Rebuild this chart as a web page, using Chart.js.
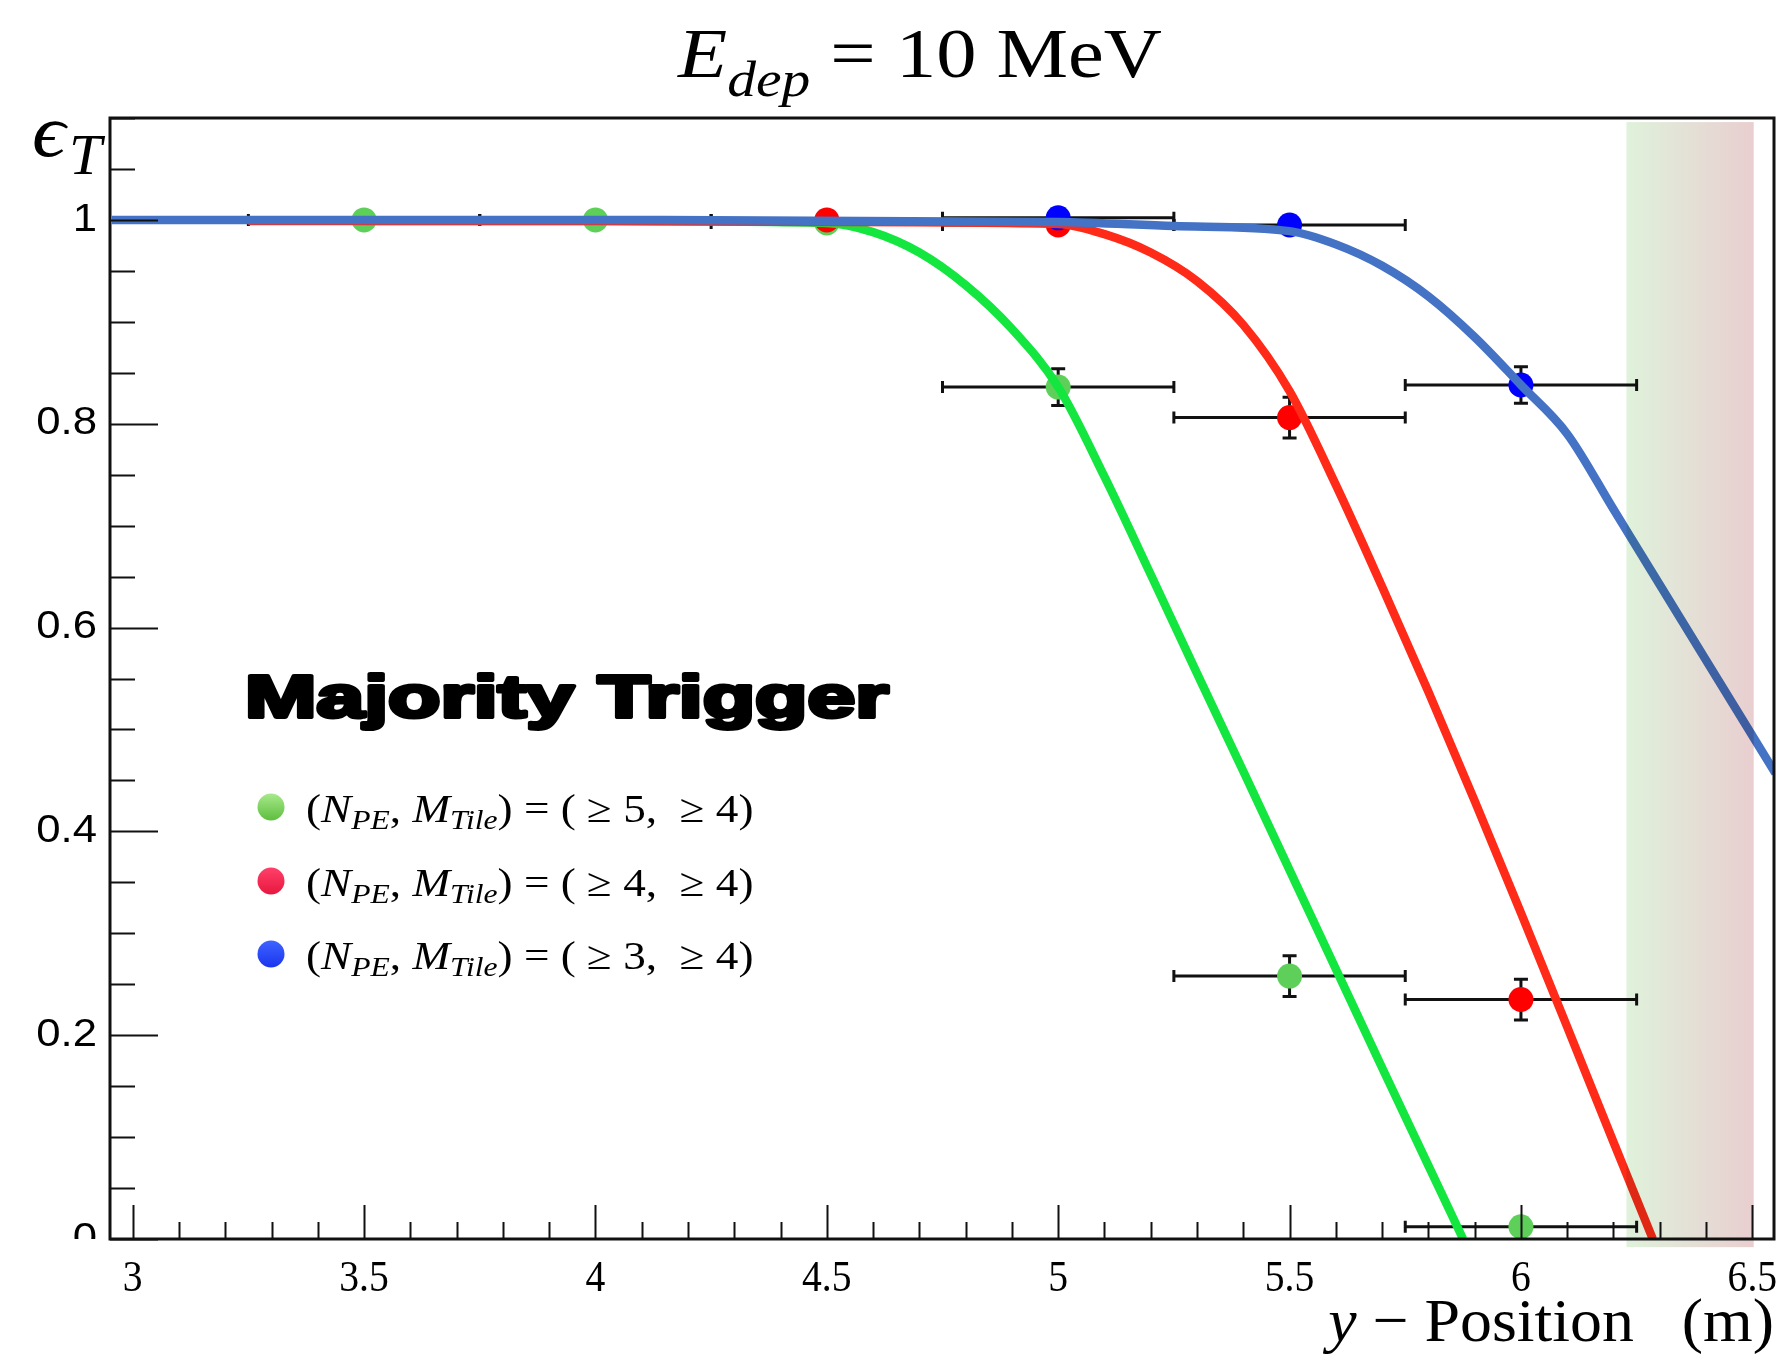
<!DOCTYPE html>
<html>
<head>
<meta charset="utf-8">
<title>Majority Trigger - efficacite</title>
<script src="https://cdn.jsdelivr.net/npm/chart.js@4.4.1/dist/chart.umd.min.js"></script>
<style>
  html, body { margin: 0; padding: 0; background: #fff; }
  #wrap { width: 1777px; height: 1356px; }
</style>
</head>
<body>
<div id="wrap"><canvas id="effChart" width="1777" height="1356"></canvas></div>
<script>
// Points mesures : centre du bin, efficacite, erreur
const binHalfWidth = 0.25;

const posGreen = [3.5, 4.0, 4.5, 5.0, 5.5, 6.0];
const effGreen = [1.0, 1.0, 0.997, 0.836, 0.258, 0.012];
const errGreen = [0.002, 0.002, 0.003, 0.018, 0.02, 0.008];

const posRed = [4.5, 5.0, 5.5, 6.0];
const effRed = [1.0, 0.995, 0.806, 0.235];
const errRed = [0.002, 0.003, 0.02, 0.02];

const posBlue = [5.0, 5.5, 6.0];
const effBlue = [1.002, 0.995, 0.838];
const errBlue = [0.002, 0.004, 0.018];

// Courbes d'ajustement
const fitGreenX = [3.5, 4.0, 4.5, 4.6, 4.7, 4.8, 4.9, 5.0, 5.1, 5.2, 5.3, 5.4, 5.5, 5.6, 5.7, 5.8, 5.875];
const fitGreenY = [0.999, 0.999, 0.997, 0.988, 0.968, 0.936, 0.893, 0.836, 0.748, 0.652, 0.555, 0.459, 0.362, 0.265, 0.168, 0.072, 0.0];

const fitRedX = [3.25, 4.0, 4.5, 5.0, 5.1, 5.2, 5.3, 5.4, 5.5, 5.6, 5.7, 5.8, 5.9, 6.0, 6.1, 6.2, 6.285];
const fitRedY = [0.999, 0.999, 0.998, 0.996, 0.986, 0.968, 0.940, 0.897, 0.832, 0.740, 0.640, 0.537, 0.430, 0.320, 0.208, 0.095, 0.0];

const fitBlueX = [2.955, 4.0, 5.0, 5.25, 5.5, 5.6, 5.7, 5.8, 5.9, 6.0, 6.1, 6.2, 6.3, 6.4, 6.55];
const fitBlueY = [1.0, 1.0, 0.998, 0.994, 0.989, 0.976, 0.955, 0.925, 0.885, 0.838, 0.790, 0.716, 0.642, 0.568, 0.457];

// Axes
const xMin = 2.951, xMax = 6.549;
const yMin = 0, yMax = 1.1;
const xTicks = [3, 3.5, 4, 4.5, 5, 5.5, 6, 6.5];
const yTicks = [0, 0.2, 0.4, 0.6, 0.8, 1];
const xTickLabels = ['3', '3.5', '4', '4.5', '5', '5.5', '6', '6.5'];
const yTickLabels = ['0', '0.2', '0.4', '0.6', '0.8', '1'];

// Zone grisee a droite
const shadedRange = [6.228, 6.503];
const shadedTop = 1.096;

const legendLabels = ['5', '4', '3'];

const serif = "'Liberation Serif', 'DejaVu Serif', serif";
const sans = "'Liberation Sans', Arial, sans-serif";

const series = [
    { pos: posGreen, eff: effGreen, err: errGreen },
    { pos: posRed, eff: effRed, err: errRed },
    { pos: posBlue, eff: effBlue, err: errBlue }
];

function toPoints(xs, ys) {
    return xs.map((v, i) => ({ x: v, y: ys[i] }));
}

// Texte "riche" (indices, italique) avec un etirement horizontal
function drawRich(ctx, parts, x, y, sx, align) {
    let w = 0;
    parts.forEach(p => { ctx.font = p.font; p.w = ctx.measureText(p.text).width; w += p.w; });
    let x0 = x;
    if (align === 'center') x0 = x - w * sx / 2;
    if (align === 'right') x0 = x - w * sx;
    ctx.save();
    ctx.textAlign = 'left';
    ctx.textBaseline = 'alphabetic';
    ctx.translate(x0, y);
    ctx.scale(sx, 1);
    let cx = 0;
    parts.forEach(p => {
        ctx.font = p.font;
        ctx.fillText(p.text, cx, p.dy || 0);
        cx += p.w;
    });
    ctx.restore();
}

// Barres d'erreur sous les marqueurs
const errorBars = {
    id: 'errorBars',
    beforeDatasetsDraw(chart) {
        const { ctx, scales: { x, y } } = chart;
        ctx.save();
        ctx.strokeStyle = '#111';
        ctx.lineWidth = 3;
        series.forEach(s => {
            s.pos.forEach((p, i) => {
                const px = x.getPixelForValue(p);
                const py = y.getPixelForValue(s.eff[i]);
                const xl = x.getPixelForValue(p - binHalfWidth);
                const xr = x.getPixelForValue(p + binHalfWidth);
                const yt = y.getPixelForValue(s.eff[i] + s.err[i]);
                const yb = y.getPixelForValue(s.eff[i] - s.err[i]);
                ctx.beginPath();
                ctx.moveTo(xl, py); ctx.lineTo(xr, py);
                ctx.moveTo(xl, py - 6); ctx.lineTo(xl, py + 6);
                ctx.moveTo(xr, py - 6); ctx.lineTo(xr, py + 6);
                ctx.moveTo(px, yt); ctx.lineTo(px, yb);
                ctx.moveTo(px - 7, yt); ctx.lineTo(px + 7, yt);
                ctx.moveTo(px - 7, yb); ctx.lineTo(px + 7, yb);
                ctx.stroke();
            });
        });
        ctx.restore();
    }
};

// Bande degradee par-dessus les courbes
const shadedBand = {
    id: 'shadedBand',
    afterDatasetsDraw(chart) {
        const { ctx, scales: { x, y } } = chart;
        const x0 = x.getPixelForValue(shadedRange[0]);
        const x1 = x.getPixelForValue(shadedRange[1]);
        const y0 = y.getPixelForValue(shadedTop);
        const y1 = y.getPixelForValue(-0.008);
        const g = ctx.createLinearGradient(x0, 0, x1, 0);
        g.addColorStop(0, 'rgb(223,242,219)');
        g.addColorStop(0.5, 'rgb(228,224,214)');
        g.addColorStop(1, 'rgb(233,206,208)');
        ctx.save();
        ctx.globalCompositeOperation = 'multiply';
        ctx.fillStyle = g;
        ctx.fillRect(x0, y0, x1 - x0, y1 - y0);
        ctx.restore();
    }
};

// Cadre, graduations, textes, legende
const decorations = {
    id: 'decorations',
    afterDraw(chart) {
        const { ctx, chartArea: a, scales: { x, y } } = chart;
        ctx.save();

        // graduations
        ctx.strokeStyle = '#111';
        ctx.lineWidth = 2;
        ctx.beginPath();
        for (let v = 0; v <= yMax + 1e-9; v += 0.05) {
            const major = Math.abs(v / 0.2 - Math.round(v / 0.2)) < 1e-6;
            const py = Math.round(y.getPixelForValue(v)) + 0.5;
            ctx.moveTo(a.left, py);
            ctx.lineTo(a.left + (major ? 48 : 25), py);
        }
        for (let v = 3; v <= xMax + 1e-9; v += 0.1) {
            const major = Math.abs(v / 0.5 - Math.round(v / 0.5)) < 1e-6;
            const px = Math.round(x.getPixelForValue(v)) + 0.5;
            ctx.moveTo(px, a.bottom);
            ctx.lineTo(px, a.bottom - (major ? 34 : 17));
        }
        ctx.stroke();

        // cadre
        ctx.lineWidth = 3;
        ctx.strokeRect(a.left, a.top, a.right - a.left - 1, a.bottom - a.top);

        ctx.fillStyle = '#000';

        // etiquettes de l'axe y (le "0" est coupe par l'axe)
        yTicks.forEach((v, i) => {
            const py = y.getPixelForValue(v);
            ctx.save();
            if (v === 0) {
                ctx.beginPath();
                ctx.rect(0, 0, a.left, a.bottom);
                ctx.clip();
            }
            ctx.font = '39px ' + sans;
            ctx.textBaseline = 'middle';
            const w = ctx.measureText(yTickLabels[i]).width * 1.12;
            ctx.translate(97 - w, py);
            ctx.scale(1.12, 1);
            ctx.textAlign = 'left';
            ctx.fillText(yTickLabels[i], 0, 0);
            ctx.restore();
        });

        // etiquettes de l'axe x
        xTicks.forEach((v, i) => {
            drawRich(ctx, [{ text: xTickLabels[i], font: '44px ' + serif }],
                x.getPixelForValue(v), 1291, 0.9, 'center');
        });

        // titre
        drawRich(ctx, [
            { text: 'E', font: 'italic 70px ' + serif },
            { text: 'dep', font: 'italic 50px ' + serif, dy: 19 },
            { text: ' = 10 MeV', font: '70px ' + serif }
        ], 920, 77, 1.15, 'center');

        // titre de l'axe y
        drawRich(ctx, [{ text: '\u03F5', font: 'italic 74px ' + serif }], 32, 156, 1.12, 'left');
        drawRich(ctx, [{ text: 'T', font: 'italic 56px ' + serif }], 69, 174, 1.05, 'left');

        // titre de l'axe x
        drawRich(ctx, [
            { text: 'y', font: 'italic 62px ' + serif },
            { text: ' \u2212 Position   (m)', font: '62px ' + serif }
        ], 1774, 1341, 1.03, 'right');

        // legende
        ctx.save();
        ctx.font = 'bold 60px ' + sans;
        ctx.translate(245, 717);
        ctx.scale(1.43, 1);
        ctx.lineWidth = 4;
        ctx.lineJoin = 'round';
        ctx.strokeStyle = '#000';
        ctx.fillText('Majority Trigger', 0, 0);
        ctx.strokeText('Majority Trigger', 0, 0);
        ctx.restore();

        const legendColors = [['#a6e88a', '#5fbf3f'], ['#ff3f68', '#e8183f'], ['#3f63ff', '#1a36ee']];
        const rows = [807, 881, 954];
        rows.forEach((ry, i) => {
            const g = ctx.createLinearGradient(0, ry - 13, 0, ry + 13);
            g.addColorStop(0, legendColors[i][0]);
            g.addColorStop(1, legendColors[i][1]);
            ctx.fillStyle = g;
            ctx.beginPath();
            ctx.arc(271, ry, 13.5, 0, Math.PI * 2);
            ctx.fill();
            ctx.fillStyle = '#000';
            drawRich(ctx, [
                { text: '(', font: '40px ' + serif },
                { text: 'N', font: 'italic 40px ' + serif },
                { text: 'PE', font: 'italic 28px ' + serif, dy: 7 },
                { text: ', ', font: '40px ' + serif },
                { text: 'M', font: 'italic 40px ' + serif },
                { text: 'Tile', font: 'italic 28px ' + serif, dy: 7 },
                { text: ') = ( \u2265 ' + legendLabels[i] + ',  \u2265 4)', font: '40px ' + serif }
            ], 306, ry + 15, 1.13, 'left');
        });

        ctx.restore();
    }
};

const ctx = document.getElementById('effChart').getContext('2d');
const effChart = new Chart(ctx, {
    type: 'scatter',
    data: {
        datasets: [
            {
                label: 'fit (>=3, >=4)', data: toPoints(fitBlueX, fitBlueY), showLine: true,
                borderColor: '#4472c4', borderWidth: 8.5, pointRadius: 0, cubicInterpolationMode: 'monotone', order: 1
            },
            {
                label: 'fit (>=4, >=4)', data: toPoints(fitRedX, fitRedY), showLine: true,
                borderColor: '#ff2a18', borderWidth: 8.5, pointRadius: 0, cubicInterpolationMode: 'monotone', order: 2
            },
            {
                label: 'fit (>=5, >=4)', data: toPoints(fitGreenX, fitGreenY), showLine: true,
                borderColor: '#14e640', borderWidth: 8.5, pointRadius: 0, cubicInterpolationMode: 'monotone', order: 3
            },
            {
                label: '(>=3, >=4)', data: toPoints(posBlue, effBlue), pointRadius: 12.5,
                pointBackgroundColor: '#0000ff', pointBorderWidth: 0, order: 4
            },
            {
                label: '(>=4, >=4)', data: toPoints(posRed, effRed), pointRadius: 12.5,
                pointBackgroundColor: '#ff0000', pointBorderWidth: 0, order: 5
            },
            {
                label: '(>=5, >=4)', data: toPoints(posGreen, effGreen), pointRadius: 12.5,
                pointBackgroundColor: '#5ed05a', pointBorderWidth: 0, order: 6
            }
        ]
    },
    options: {
        responsive: false,
        animation: false,
        devicePixelRatio: 1,
        events: [],
        layout: { autoPadding: false, padding: { left: 110, right: 2, top: 118, bottom: 117 } },
        plugins: {
            legend: { display: false },
            tooltip: { enabled: false }
        },
        scales: {
            x: { type: 'linear', min: xMin, max: xMax, display: false },
            y: { type: 'linear', min: yMin, max: yMax, display: false }
        }
    },
    plugins: [errorBars, shadedBand, decorations]
});
</script>
</body>
</html>
